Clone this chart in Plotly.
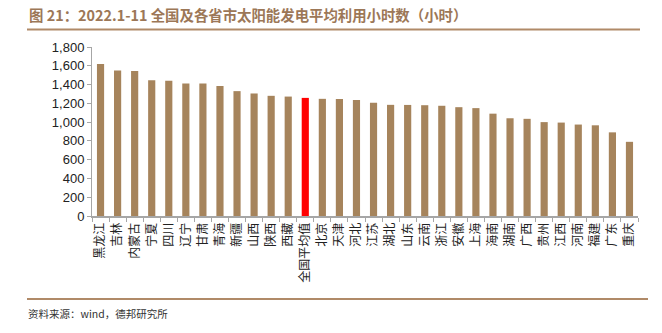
import plotly.graph_objects as go

categories = ["黑龙江", "吉林", "内蒙古", "宁夏", "四川", "辽宁", "甘肃", "青海", "新疆", "山西",
              "陕西", "西藏", "全国平均值", "北京", "天津", "河北", "江苏", "湖北", "山东", "云南",
              "浙江", "安徽", "上海", "海南", "湖南", "广西", "贵州", "江西", "河南", "福建",
              "广东", "重庆"]
values = [1620, 1550, 1545, 1445, 1440, 1410, 1410, 1385, 1330, 1305,
          1280, 1272, 1258, 1248, 1246, 1236, 1205, 1184, 1183, 1180,
          1174, 1159, 1149, 1090, 1041, 1035, 1000, 995, 974, 966,
          891, 790]
highlight = "全国平均值"
y_ticks = [0, 200, 400, 600, 800, 1000, 1200, 1400, 1600, 1800]
y_tick_labels = ["0", "200", "400", "600", "800", "1,000", "1,200", "1,400", "1,600", "1,800"]
title_text = "图 21：2022.1-11 全国及各省市太阳能发电平均利用小时数（小时）"
source_text = "资料来源：wind，德邦研究所"

BROWN = "#A6845C"
colors = ["#FF0000" if c == highlight else BROWN for c in categories]

L, R, T, B = 92, 24, 47, 117
PW, PH = 662 - L - R, 333 - T - B


def px(xp):
    return (xp - L) / PW


def py(yp):
    return (333 - yp - B) / PH


fig = go.Figure()
fig.add_trace(go.Bar(
    x=categories, y=values, marker=dict(color=colors, line=dict(width=0)),
    width=0.42,
))

fig.update_layout(
    width=662, height=333,
    margin=dict(l=L, r=R, t=T, b=B),
    paper_bgcolor="white", plot_bgcolor="white",
    showlegend=False,
    font=dict(family="Liberation Sans, Arial, sans-serif", color="#222"),
    xaxis=dict(
        tickmode="array", tickvals=categories, ticktext=categories,
        tickfont=dict(family="Noto Sans CJK SC", size=12, color="#222"),
        tickangle=-90, showline=True, linecolor="#A6A6A6", linewidth=2,
        ticks="outside", tickson="boundaries", ticklen=4, tickcolor="#A6A6A6",
        showgrid=False, range=[-0.5, len(categories) - 0.5],
    ),
    yaxis=dict(
        range=[0, 1800], tickmode="array", tickvals=y_ticks, ticktext=y_tick_labels,
        tickfont=dict(size=13, color="#222"),
        showline=True, linecolor="#A6A6A6", linewidth=1,
        ticks="outside", ticklen=4, tickcolor="#A6A6A6",
        showgrid=False, zeroline=False,
    ),
    shapes=[
        dict(type="line", xref="paper", yref="paper",
             x0=px(27), x1=px(640), y0=py(29.5), y1=py(29.5),
             line=dict(color="#B08A68", width=2)),
        dict(type="line", xref="paper", yref="paper",
             x0=px(27), x1=px(648), y0=py(299), y1=py(299),
             line=dict(color="#B08A68", width=2)),
    ],
    annotations=[
        dict(text="<b>" + title_text + "</b>", xref="paper", yref="paper",
             x=px(27), y=py(15), xanchor="left", yanchor="middle",
             showarrow=False, font=dict(family="Noto Sans CJK SC", size=14.4, color="#9C7757")),
        dict(text=source_text, xref="paper", yref="paper",
             x=px(26), y=py(313), xanchor="left", yanchor="middle",
             showarrow=False, font=dict(family="Noto Sans CJK SC", size=10.5, color="#333")),
    ],
)

fig.write_html("out.html")
